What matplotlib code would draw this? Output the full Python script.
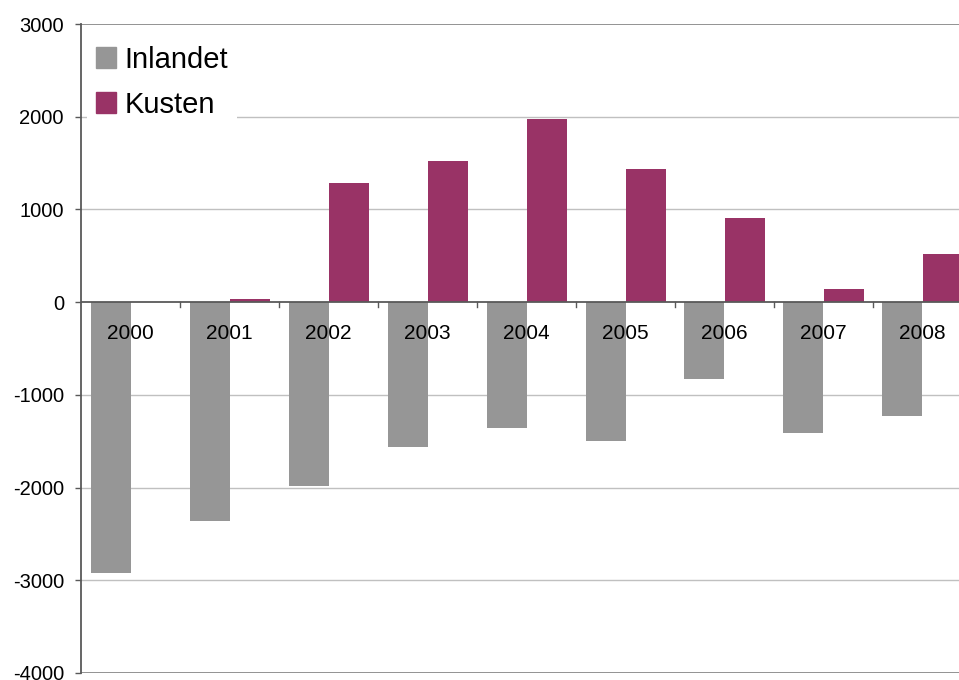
import matplotlib
matplotlib.use("Agg")
import matplotlib.pyplot as plt
import numpy as np
from matplotlib.patches import Patch

plt.rcParams['font.family'] = ['Liberation Sans', 'DejaVu Sans']

years = ["2000", "2001", "2002", "2003", "2004", "2005", "2006", "2007", "2008"]
inlandet = [-2920, -2360, -1985, -1565, -1360, -1500, -827, -1410, -1226]
kusten = [0, 32, 1284, 1521, 1974, 1435, 906, 140, 518]
yticks = [-4000, -3000, -2000, -1000, 0, 1000, 2000, 3000]

fig = plt.figure(figsize=(9.59, 6.8), dpi=100)
ax = fig.add_axes([81/959, 1-673/680, 1-81/959, (673-24)/680])

x = np.arange(len(years))
w = 40/99
ax.bar(x - w/2, inlandet, width=w, color="#969696", zorder=1, label="Inlandet")
ax.bar(x + w/2, kusten, width=w, color="#993366", zorder=1, label="Kusten")

ax.set_ylim(-4000, 3000)
ax.set_xlim(-0.5, (959-81)/99 - 0.5)

for v in yticks:
    if v in (3000, -4000):
        ax.axhline(v, color="#808080", lw=1.2, zorder=0.5)
    elif v == 0:
        ax.axhline(v, color="#595959", lw=1.3, zorder=2)
    else:
        ax.axhline(v, color="#c0c0c0", lw=1.0, zorder=0.5)

for s in ["top", "right", "bottom"]:
    ax.spines[s].set_visible(False)
ax.spines["left"].set_color("#595959")
ax.spines["left"].set_linewidth(1.3)

ax.set_yticks(yticks)
ax.set_yticklabels([str(v) for v in yticks])
ax.tick_params(axis="y", length=4.3, width=1, color="#595959", pad=8, labelsize=14.5)
ax.set_xticks([])

# category boundary tick marks on the zero line
for b in np.arange(0.5, len(years) - 0.5, 1.0):
    ax.plot([b, b], [0, -55], color="#595959", lw=1, zorder=2, clip_on=False)

for i, yr in enumerate(years):
    ax.annotate(yr, xy=(i, 0), xytext=(0, -31/1.389), textcoords="offset points",
                ha="center", va="center", fontsize=15, zorder=3)

handles = [Patch(color="#969696", label="Inlandet"), Patch(color="#993366", label="Kusten")]
leg = ax.legend(handles=handles, loc="upper left", bbox_to_anchor=(0.0071, 0.98),
                borderaxespad=0, frameon=True, fontsize=21, handlelength=0.69,
                handleheight=0.69, handletextpad=0.3, labelspacing=0.58, borderpad=0.3)
leg.get_frame().set_facecolor("white")
leg.get_frame().set_edgecolor("none")
leg.get_frame().set_alpha(1)
leg.set_zorder(5)

fig.savefig("out.png", dpi=100)
